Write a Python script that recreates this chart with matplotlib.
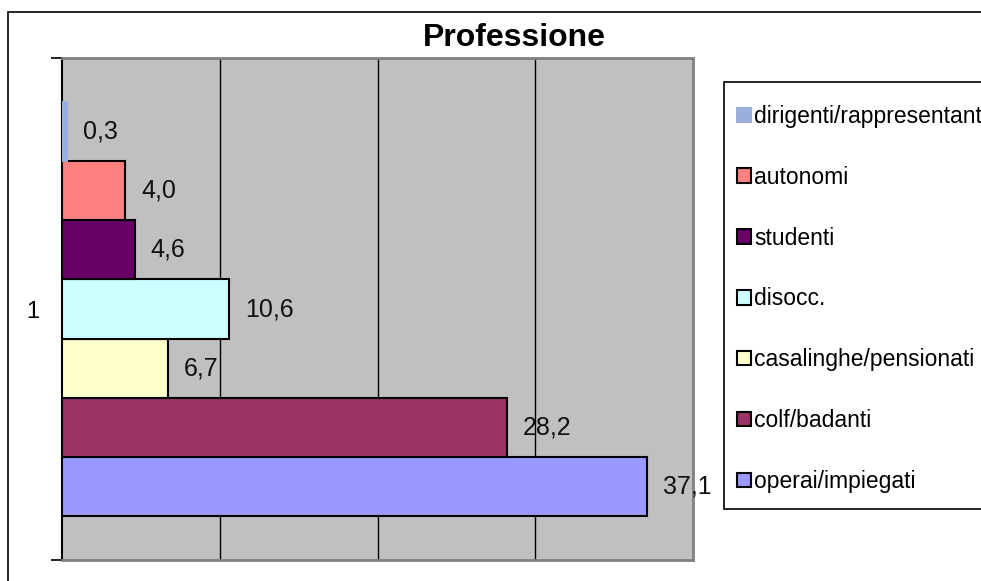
import matplotlib.pyplot as plt
from matplotlib.patches import Rectangle

plt.rcParams["font.family"] = ["Liberation Sans", "DejaVu Sans"]

# series, bottom bar first (Excel order)
labels = ["operai/impiegati", "colf/badanti", "casalinghe/pensionati", "disocc.",
          "studenti", "autonomi", "dirigenti/rappresentant"]
values = [37.1, 28.2, 6.7, 10.6, 4.6, 4.0, 0.3]
colors = ["#9999FF", "#993366", "#FFFFCC", "#CCFFFF", "#660066", "#FF8080", "#99AEDA"]
category = "1"

W, H = 981, 581
fig = plt.figure(figsize=(W / 100, H / 100), dpi=100)
ax = fig.add_axes([62 / W, 1 - 560 / H, (693 - 62) / W, (560 - 58) / H])

# outer chart frame (cut off on the right and bottom)
fig.patches.append(Rectangle((8 / W, -0.1), 1.2, 1.1 - 12 / H, transform=fig.transFigure,
                             fill=False, edgecolor="black", lw=1.2))
# legend frame, also cut off on the right
fig.patches.append(Rectangle((724 / W, 1 - 509 / H), 0.5, (509 - 82) / H,
                             transform=fig.transFigure, facecolor="white",
                             edgecolor="black", lw=1.2))

n = len(values)
group = 0.825
h = group / n
handles = []
for i, (lab, v, c) in enumerate(zip(labels, values, colors)):
    y = (i - (n - 1) / 2) * h
    ec = c if v < 1 else "black"
    b = ax.barh(y, v, height=h, color=c, edgecolor=ec, linewidth=1.5, label=lab, zorder=3)
    handles.append(b)
    txt = f"{v:.1f}".replace(".", ",")
    ax.annotate(txt, (v, y), xytext=(16, 0), textcoords="offset pixels",
                ha="left", va="center", fontsize=18, color="#111111", clip_on=False, zorder=4)

ax.set_facecolor("#C0C0C0")
ax.set_xlim(0, 40)
ax.set_ylim(-0.5, 0.5)
ax.set_xticks([10, 20, 30])
ax.xaxis.grid(True, color="black", lw=1)
ax.set_axisbelow(True)
ax.tick_params(axis="x", length=0, labelbottom=False)
ax.set_yticks([-0.5, 0.5])
ax.set_yticklabels([])
ax.tick_params(axis="y", which="major", length=8, width=1.2, color="black")
ax.set_yticks([0], minor=True)
ax.set_yticklabels([category], minor=True, fontsize=17)
ax.tick_params(axis="y", which="minor", length=0, pad=16)
for s in ["top", "right", "bottom"]:
    ax.spines[s].set_color("#808080")
    ax.spines[s].set_linewidth(2)
ax.spines["left"].set_color("black")
ax.spines["left"].set_linewidth(1.5)

fig.text(514 / W, 1 - 38 / H, "Professione", ha="center", va="center",
         fontsize=23, fontweight="bold")

leg = fig.legend(handles[::-1], labels[::-1], loc="upper left",
                 bbox_to_anchor=(737 / W, 1 - 105 / H), bbox_transform=fig.transFigure,
                 fontsize=16.5, frameon=False, borderpad=0, labelspacing=1.65,
                 handlelength=0.6, handleheight=0.6, handletextpad=0.14, borderaxespad=0)

fig.savefig("out.png", dpi=100)
